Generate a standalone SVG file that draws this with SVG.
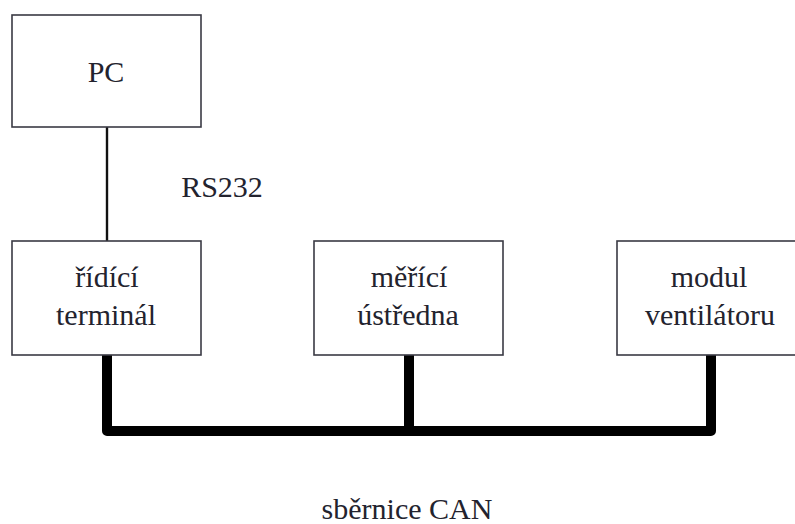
<svg xmlns="http://www.w3.org/2000/svg" width="795" height="524" viewBox="0 0 795 524">
  <style>
    .box { fill: #ffffff; stroke: #3a3a44; stroke-width: 1.6; }
    .lbl { font-family: "Liberation Serif", "Times New Roman", serif; font-size: 30px; fill: #23232e; text-anchor: middle; }
    .rs { stroke: #111111; stroke-width: 2.4; fill: none; }
    .bus { stroke: #000000; stroke-width: 10; fill: none; stroke-linejoin: round; stroke-linecap: butt; }
  </style>
  <rect width="795" height="524" fill="#ffffff"/>

  <!-- connectors: serial link and CAN bus -->
  <g id="connectors">
    <line class="rs" x1="107" y1="127" x2="107" y2="241"/>
    <polyline class="bus" points="107,355 107,431 711,431 711,355"/>
    <line class="bus" x1="409" y1="355" x2="409" y2="431"/>
  </g>

  <g id="pc">
    <rect class="box" x="12" y="15" width="189" height="112"/>
    <text class="lbl" x="106" y="82">PC</text>
  </g>

  <text id="rs232" class="lbl" x="222" y="197">RS232</text>

  <g id="ridici-terminal">
    <rect class="box" x="12" y="241" width="189" height="114"/>
    <text class="lbl" x="107" y="287">řídící</text>
    <text class="lbl" x="106" y="325">terminál</text>
  </g>

  <g id="merici-ustredna">
    <rect class="box" x="314" y="241" width="189" height="114"/>
    <text class="lbl" x="409" y="287">měřící</text>
    <text class="lbl" x="408" y="325">ústředna</text>
  </g>

  <g id="modul-ventilatoru">
    <rect class="box" x="617" y="241" width="189" height="114"/>
    <text class="lbl" x="709" y="287">modul</text>
    <text class="lbl" x="710" y="325">ventilátoru</text>
  </g>

  <text id="can-label" class="lbl" x="407" y="519">sběrnice CAN</text>
</svg>
